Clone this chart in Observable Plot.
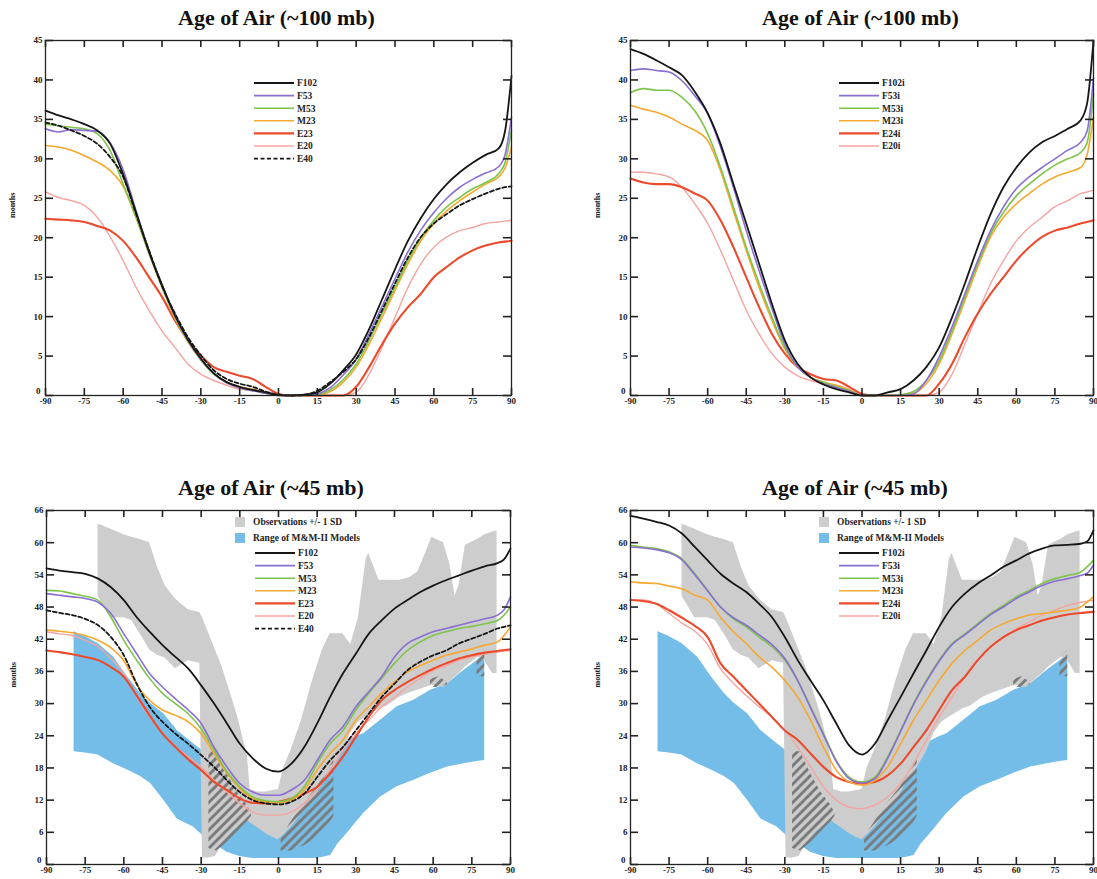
<!DOCTYPE html>
<html><head><meta charset="utf-8">
<script src="https://cdn.jsdelivr.net/npm/d3@7"></script>
<script src="https://cdn.jsdelivr.net/npm/@observablehq/plot@0.6"></script>
<style>
body{margin:0;background:#fff;}
#wrap{position:relative;width:1097px;height:879px;overflow:hidden;font-family:"Liberation Serif",serif;}
.panel{position:absolute;}
.title{position:absolute;font-weight:bold;font-size:22px;line-height:26px;white-space:nowrap;color:#111;}
</style></head>
<body><div id="wrap"></div>
<script>
// ---------------- data ----------------
const lat = [-90,-85,-80,-75,-70,-65,-60,-55,-50,-45,-40,-35,-30,-25,-20,-15,-10,-5,0,5,10,15,20,25,30,35,40,45,50,55,60,65,70,75,80,85,87.5,90];

// ~100 mb, standard runs
const namesA = ["F102","F53","M53","M23","E23","E20","E40"];
const A_F102 = [36.1,35.5,35.0,34.4,33.6,31.9,28.0,23.2,18.2,14.0,10.2,7.1,4.7,2.8,1.7,1.1,0.7,0.4,0.05,0,0.1,0.4,1.5,3.2,5.2,8.4,12.2,16.0,19.6,22.5,24.9,26.8,28.3,29.5,30.5,31.3,33.5,40.5];
const A_F53  = [33.8,33.4,33.7,33.6,33.5,32.0,28.6,23.4,18.3,14.1,10.1,7.0,4.6,2.8,1.6,1.0,0.6,0.3,0,0,0,0.2,1.0,2.6,4.6,7.8,11.3,14.8,18.2,21.0,23.2,25.0,26.4,27.4,28.2,29.0,30.5,35.3];
const A_M53  = [34.4,34.2,34.0,33.8,33.2,31.0,26.8,22.6,18.0,13.8,9.9,6.9,4.5,2.7,1.6,1.0,0.6,0.3,0,0,0,0.1,0.7,2.0,4.0,7.0,10.4,13.7,17.1,20.0,22.2,23.9,25.1,26.2,27.0,28.1,29.5,33.6];
const A_M23  = [31.7,31.5,31.1,30.4,29.6,28.5,26.5,22.5,18.0,13.7,9.8,6.8,4.5,2.8,1.7,1.1,0.8,0.4,0,0,0,0.1,0.5,1.7,3.6,6.5,9.9,13.3,16.7,19.6,21.8,23.4,24.7,25.8,26.8,27.7,28.8,31.5];
const A_E23  = [22.4,22.3,22.2,22.0,21.5,20.9,19.6,17.5,15.0,12.5,9.5,7.0,5.1,3.6,3.0,2.5,2.1,1.1,0.2,0,0,0,0,0,1.1,3.6,6.5,9.1,11.2,12.9,15.0,16.3,17.5,18.4,19.0,19.4,19.5,19.6];
const A_E20  = [25.8,25.1,24.7,24.1,22.6,20.1,17.1,13.7,10.8,8.2,6.1,4.0,2.7,1.9,1.3,0.8,0.6,0.3,0,0,0,0,0,0,0.4,2.7,6.1,9.9,13.7,16.7,18.8,20.1,20.9,21.3,21.8,22.0,22.1,22.2];
const A_E40  = [34.6,34.2,33.6,32.9,31.9,30.2,27.7,23.0,18.4,13.9,10.4,7.4,5.1,3.2,2.1,1.5,1.1,0.5,0.1,0,0.1,0.6,1.7,3.0,4.6,7.4,10.8,14.2,17.5,20.1,21.8,23.0,24.1,24.9,25.6,26.2,26.4,26.5];

// ~100 mb, "i" runs
const namesB = ["F102i","F53i","M53i","M23i","E24i","E20i"];
const B_F102 = [43.9,43.3,42.5,41.6,40.6,38.5,35.8,31.9,26.8,21.8,16.7,11.6,7.0,4.0,2.3,1.4,0.8,0.4,0,0,0.4,0.8,1.9,3.6,6.1,9.9,14.2,18.8,23.0,26.4,28.9,30.8,32.1,32.9,33.8,34.9,37.0,45.0];
const B_F53  = [41.2,41.4,41.2,41.0,39.9,38.0,35.7,31.5,26.4,20.9,15.8,11.0,6.5,3.6,2.3,1.5,1.0,0.5,0,0,0,0,0.2,1.9,4.9,8.7,12.9,17.1,20.9,23.9,26.2,27.7,28.9,30.0,31.1,32.1,33.5,40.3];
const B_M53  = [38.4,38.9,38.7,38.7,37.8,36.1,33.2,28.9,23.9,18.8,14.2,9.9,6.1,3.6,2.3,1.7,1.1,0.6,0,0,0,0.1,0.5,1.9,4.4,8.2,12.5,16.7,20.5,23.2,25.3,26.8,28.1,29.2,30.0,30.8,32.0,38.2];
const B_M23  = [36.8,36.3,35.9,35.3,34.4,33.6,32.3,28.5,23.4,18.4,13.7,9.5,5.9,3.6,2.3,1.7,1.3,0.7,0,0,0,0.1,0.3,1.5,4.0,7.8,12.0,16.3,20.1,22.6,24.3,25.6,26.8,27.7,28.3,28.9,30.5,35.3];
const B_E24  = [27.5,27.0,26.8,26.8,26.4,25.6,24.7,22.2,18.8,15.0,11.2,7.8,5.3,3.6,2.7,2.1,1.9,1.1,0.2,0,0,0,0,0,1.5,4.0,7.4,10.4,12.9,15.0,17.1,18.8,20.1,20.9,21.3,21.8,22.0,22.2];
const B_E20  = [28.3,28.3,28.1,27.7,26.4,24.3,21.8,18.4,14.6,10.8,7.8,5.3,3.6,2.5,1.9,1.5,1.3,0.8,0,0,0,0,0,0,0.4,2.7,6.5,10.4,14.2,17.1,19.6,21.3,22.6,23.9,24.7,25.6,25.8,26.0];

// ~45 mb, standard runs
const C_F102 = [55.2,54.8,54.5,54.2,53.3,51.7,49.3,46.1,43.4,40.9,38.7,36.5,33.4,30.0,26.3,22.5,19.8,17.9,17.3,18.8,21.9,26.3,31.2,35.6,39.3,43.0,45.5,47.7,49.3,50.8,52.0,53.0,53.9,54.8,55.6,56.2,56.9,58.9];
const C_F53  = [50.5,50.2,49.9,49.6,48.9,46.8,43.0,39.3,35.6,33.1,30.9,28.8,26.3,21.9,18.2,15.1,13.5,12.9,12.9,13.9,15.7,19.4,23.2,25.7,29.4,32.2,35.0,38.7,41.2,42.4,43.4,44.0,44.6,45.2,45.8,46.5,47.5,49.9];
const C_M53  = [51.1,51.0,50.5,50.0,49.3,46.1,41.8,38.1,34.7,31.9,30.0,28.1,25.3,21.3,17.3,14.5,12.6,11.9,11.7,12.3,14.5,18.8,22.5,25.0,28.8,31.9,34.7,37.5,39.9,41.5,42.7,43.4,44.0,44.4,44.9,45.5,46.5,48.0];
const C_M23  = [43.7,43.5,43.2,42.7,41.8,40.4,38.0,33.5,30.6,28.8,27.8,26.6,24.4,20.7,17.0,14.2,12.3,11.7,11.5,12.0,13.9,17.6,20.7,23.2,26.9,29.4,31.9,34.0,35.9,37.1,38.1,39.0,39.6,40.2,40.9,41.5,42.7,44.3];
const C_E23  = [39.9,39.6,39.2,38.7,38.1,36.8,35.0,31.5,27.8,24.4,21.9,19.6,17.6,15.4,13.9,12.3,11.5,11.4,11.7,12.3,13.2,14.5,17.0,20.1,23.8,27.5,30.6,32.5,34.0,35.3,36.5,37.5,38.4,39.0,39.5,39.8,40.0,40.1];
const C_E20  = [43.4,43.0,42.7,41.8,40.6,38.4,35.6,31.2,27.5,24.4,21.9,20.1,18.2,15.7,13.5,11.4,9.8,9.2,9.2,9.8,11.4,13.9,17.6,21.3,24.4,26.9,29.4,31.2,33.1,34.7,36.2,37.1,38.1,38.7,39.3,39.6,39.8,39.9];
const C_E40  = [47.4,46.9,46.5,45.8,44.6,42.4,39.0,33.7,29.4,26.6,24.4,22.5,20.4,18.2,15.7,13.5,12.0,11.4,11.2,11.7,13.2,16.3,19.4,21.9,25.0,28.1,31.2,33.7,36.2,37.8,39.0,39.9,41.2,42.1,43.0,44.0,44.3,44.6];

// ~45 mb, "i" runs
const D_F102 = [65.0,64.5,63.9,63.2,61.7,59.2,56.7,54.2,52.4,50.8,48.6,46.1,42.4,38.1,34.3,30.6,26.3,22.2,20.5,22.5,26.9,31.2,35.6,39.9,44.3,48.0,50.5,52.4,53.9,55.5,56.7,58.0,58.9,59.5,59.6,59.8,60.2,62.3];
const D_F53  = [59.2,59.0,58.7,58.1,56.8,54.0,51.0,48.0,46.0,44.6,42.8,41.0,38.4,34.3,29.2,24.2,19.2,16.0,15.2,16.0,19.8,24.8,29.8,34.1,37.9,41.0,42.8,44.7,46.6,48.0,49.6,50.8,52.0,52.8,53.3,53.9,54.3,55.8];
const D_M53  = [59.5,59.2,58.9,58.3,57.0,54.2,51.1,48.0,45.8,44.3,42.4,40.6,38.1,34.3,29.4,24.4,19.4,16.3,15.4,16.3,20.1,25.0,30.0,34.3,38.1,41.2,43.0,44.9,46.8,48.3,49.9,51.1,52.4,53.3,53.9,54.5,55.5,56.7];
const D_M23  = [52.7,52.5,52.4,51.9,51.4,50.2,49.3,46.1,43.4,41.2,38.7,36.8,34.3,31.2,26.9,21.9,17.6,15.4,14.8,15.7,18.2,22.5,26.9,30.6,34.3,37.5,39.9,41.8,43.7,44.9,45.8,46.5,46.8,47.1,47.4,48.0,48.9,49.9];
const D_E24  = [49.3,49.1,48.6,47.4,46.0,44.5,42.4,37.5,35.0,32.5,30.0,27.5,25.0,23.2,20.7,18.2,16.3,15.4,15.1,15.4,16.6,18.8,21.9,25.0,28.8,32.5,35.0,38.1,40.6,42.4,43.7,44.6,45.5,46.1,46.6,46.9,47.0,47.1];
const D_E20  = [49.3,49.3,48.6,46.8,45.0,43.5,41.0,36.5,33.8,31.5,29.4,27.5,25.0,21.9,18.2,14.5,12.0,10.7,10.4,11.1,12.6,15.1,18.8,23.2,27.5,31.2,35.0,38.1,40.6,42.4,44.0,45.2,46.5,47.4,48.3,48.9,49.1,49.3];

// Observations +/- 1 SD (grey band)
const obsLat = [-70,-65,-60,-57,-53,-50,-47,-44,-40,-35,-30.5,-29.5,-27,-24.5,-22,-18,-15.5,-12,-11,-8,-5,-2,0,2,5,9,13,17,20,22,25,28,31,34,35,39,42,47,51,54,57,59.5,64,66.5,68.5,70,72.5,77.5,80,83,84.8];
const obsHi  = [63.5,62.5,61.5,61,60.5,60,55.5,52,49.5,47.5,47,46,43,40,37,31,27,20,14,13.5,13.5,13.8,14,18,21.5,27,34,40,43,43,43,41,46,57,58,53,53,53,53.5,54.5,58,61,60,56,50,52,59.5,60.7,61.5,62,62.2];
const obsLo  = [50,46,46,45.5,42.5,40,39,38.5,36.5,38,37.5,1.2,1.2,1.5,3.5,6,7,8.3,7.8,6.8,5.8,5,4.6,5.5,7,9.5,11.5,15,17,18.5,21,24.5,26.5,27.5,27.8,29,29.5,31.2,32,32.5,33,33.4,33,34,35,35.5,36.8,38.7,38,35.6,35.6];

// Range of M&M-II models (blue band)
const mmLat = [-79.3,-75,-70,-64,-58.6,-53.5,-49.6,-44.5,-39.3,-33,-28,-25,-20,-15,-10,-5,0,5,10,13.7,17,20.2,23,26.6,30,33,39.6,46,52.5,59,65.6,72,77,80];
const mmHi  = [43.4,42.5,41.2,38.7,35,31.9,30,28.1,25,22.5,20.7,18,14,11,8.5,7,6.5,7.5,10,13,17,20,22,23,23.8,24.4,26.9,29.4,30.6,32.5,33.7,36.2,38,39.3];
const mmLo  = [21,20.8,20.4,18.8,17.6,16.4,15.1,12,8.5,7,4.8,3.9,2.3,1.5,1.1,1.1,1.1,1.1,1.1,1.1,1.3,1.7,3.8,5.8,7.8,9.5,12.6,14.5,15.7,17,18.2,18.8,19.2,19.4];

// hatched overlap regions
const hatchLat = [[-27,-24,-20,-16,-12,-10.5],[1,5,10,15,19,21.5],[59,62,65.5],[77,80]];
const hatchLo  = [[3,2.5,4,6,8,9],[2.5,2.5,3.5,5,7,9],[33,33,33.5],[35,35]];
const hatchHi  = [[21,21,17,13.5,11,9.5],[5,8,11.5,14.5,17.5,19.5],[34.5,35,34],[38.5,40]];

const xTicks = [-90,-75,-60,-45,-30,-15,0,15,30,45,60,75,90];
const yTicksA = [0,5,10,15,20,25,30,35,40,45];
const yTicksC = [0,6,12,18,24,30,36,42,48,54,60,66];

// ---------------- styles ----------------
const roleStyle = [
  {stroke:"#161616", strokeWidth:1.8},
  {stroke:"#8a6fd3", strokeWidth:1.6},
  {stroke:"#7dc44a", strokeWidth:1.6},
  {stroke:"#f6a830", strokeWidth:1.6},
  {stroke:"#ec4a2c", strokeWidth:2.1},
  {stroke:"#f5a4a1", strokeWidth:1.4},
  {stroke:"#161616", strokeWidth:1.8, strokeDasharray:"4,2.5"}
];
const GREY = "#cdcdcd", BLUE = "#74bde8", HATCH = "#7b7b7b";
const drawOrder = [5,4,3,2,1,6,0];

const panels = [
  {id:"tl", left:0,   top:30,  plotW:466, plotH:355, yMax:45, yTicks:yTicksA, names:namesA,
   values:[A_F102,A_F53,A_M53,A_M23,A_E23,A_E20,A_E40], bands:false, title:"Age of Air (~100 mb)", tx:178, ty:5},
  {id:"tr", left:585, top:30,  plotW:463, plotH:355, yMax:45, yTicks:yTicksA, names:namesB,
   values:[B_F102,B_F53,B_M53,B_M23,B_E24,B_E20], bands:false, title:"Age of Air (~100 mb)", tx:762, ty:5},
  {id:"bl", left:1,   top:500, plotW:464, plotH:354, yMax:66, yTicks:yTicksC, names:namesA,
   values:[C_F102,C_F53,C_M53,C_M23,C_E23,C_E20,C_E40], bands:true, title:"Age of Air (~45 mb)", tx:178, ty:475},
  {id:"br", left:585, top:500, plotW:463, plotH:354, yMax:66, yTicks:yTicksC, names:namesB,
   values:[D_F102,D_F53,D_M53,D_M23,D_E24,D_E20], bands:true, title:"Age of Air (~45 mb)", tx:762, ty:475}
];

const wrap = document.getElementById("wrap");

panels.forEach(p => {
  const mL = 45, mT = 10, mB = 15, mR = 6;
  const W = mL + p.plotW + mR, H = mT + p.plotH + mB;
  const marks = [];
  const hatchId = "hatch-" + p.id;
  if (p.bands) {
    const mm = mmLat.map((x,i) => ({lat:x, lo:mmLo[i], hi:mmHi[i]}));
    const obs = obsLat.map((x,i) => ({lat:x, lo:obsLo[i], hi:obsHi[i]}));
    marks.push(Plot.area(mm, {x1:"lat", y1:"lo", y2:"hi", fill:BLUE, curve:"linear"}));
    marks.push(Plot.area(obs, {x1:"lat", y1:"lo", y2:"hi", fill:GREY, curve:"linear"}));
    hatchLat.forEach((xs,k) => {
      const h = xs.map((x,i) => ({lat:x, lo:hatchLo[k][i], hi:hatchHi[k][i]}));
      marks.push(Plot.area(h, {x1:"lat", y1:"lo", y2:"hi", fill:`url(#${hatchId})`, curve:"linear"}));
    });
  }
  drawOrder.forEach(r => {
    if (r >= p.values.length) return;
    const d = lat.map((x,i) => ({lat:x, v:p.values[r][i]}));
    marks.push(Plot.line(d, {x:"lat", y:"v", curve:"monotone-x", ...roleStyle[r]}));
  });
  // inward ticks on all four sides
  marks.push(Plot.tickX(xTicks, {x:d=>d, insetTop:p.plotH-7, stroke:"#222", strokeWidth:1.6}));
  marks.push(Plot.tickX(xTicks, {x:d=>d, insetBottom:p.plotH-7, stroke:"#222", strokeWidth:1.6}));
  marks.push(Plot.tickY(p.yTicks, {y:d=>d, insetRight:p.plotW-8, stroke:"#222", strokeWidth:1.6}));
  marks.push(Plot.tickY(p.yTicks, {y:d=>d, insetLeft:p.plotW-8, stroke:"#222", strokeWidth:1.6}));
  marks.push(Plot.frame({stroke:"#222", strokeWidth:1.3}));
  marks.push(Plot.axisX(xTicks, {tickSize:0, tickPadding:2, tickFormat:d=>String(d), fontSize:9, fontWeight:"bold", label:null}));
  marks.push(Plot.axisY(p.yTicks.slice(1), {tickSize:0, tickPadding:3, tickFormat:d=>String(d), fontSize:9, fontWeight:"bold", label:null}));
  marks.push(Plot.axisY([0], {tickSize:0, tickPadding:5, dy:-4, tickFormat:d=>String(d), fontSize:9, fontWeight:"bold", label:null}));
  marks.push(Plot.text(["months"], {frameAnchor:"left", dx:-33, rotate:-90, text:d=>d, fontSize:8, fontWeight:"bold", fill:"#222"}));

  const svg = Plot.plot({
    width:W, height:H, marginLeft:mL, marginRight:mR, marginTop:mT, marginBottom:mB,
    x:{domain:[-90,90], label:null}, y:{domain:[0,p.yMax], label:null},
    style:{fontFamily:"'Liberation Serif', serif", color:"#222", background:"transparent", overflow:"visible"},
    marks
  });

  const s = d3.select(svg);
  if (p.bands) {
    const pat = s.insert("defs", ":first-child").append("pattern")
      .attr("id", hatchId).attr("patternUnits","userSpaceOnUse")
      .attr("width",6.5).attr("height",6.5).attr("patternTransform","rotate(45)");
    pat.append("line").attr("x1",3.25).attr("x2",3.25).attr("y1",0).attr("y2",6.5)
      .attr("stroke",HATCH).attr("stroke-width",3);
  }
  // legend
  const g = s.append("g").attr("font-family","'Liberation Serif', serif").attr("font-weight","bold")
    .attr("font-size",9.5).attr("fill","#222").attr("text-anchor","start");
  if (p.bands) {
    g.append("rect").attr("x",mL+189).attr("y",17).attr("width",10).attr("height",10).attr("fill",GREY);
    g.append("text").attr("x",mL+207).attr("y",22).attr("dy","0.35em").text("Observations +/- 1 SD");
    g.append("rect").attr("x",mL+189).attr("y",33).attr("width",10).attr("height",10).attr("fill",BLUE);
    g.append("text").attr("x",mL+207).attr("y",38).attr("dy","0.35em").text("Range of M&M-II Models");
  }
  p.names.forEach((n,i) => {
    const y = 53 + i*12.6, st = roleStyle[i];
    g.append("line").attr("x1",mL+209).attr("x2",mL+249).attr("y1",y).attr("y2",y)
      .attr("stroke",st.stroke).attr("stroke-width",st.strokeWidth)
      .attr("stroke-dasharray",st.strokeDasharray||null);
    g.append("text").attr("x",mL+252).attr("y",y).attr("dy","0.35em").text(n);
  });

  const div = document.createElement("div");
  div.className = "panel";
  div.style.left = p.left + "px"; div.style.top = p.top + "px"; div.style.width = W + "px";
  div.appendChild(svg);
  wrap.appendChild(div);

  const t = document.createElement("div");
  t.className = "title"; t.textContent = p.title;
  t.style.left = p.tx + "px"; t.style.top = p.ty + "px";
  wrap.appendChild(t);
});
</script>
</body></html>
